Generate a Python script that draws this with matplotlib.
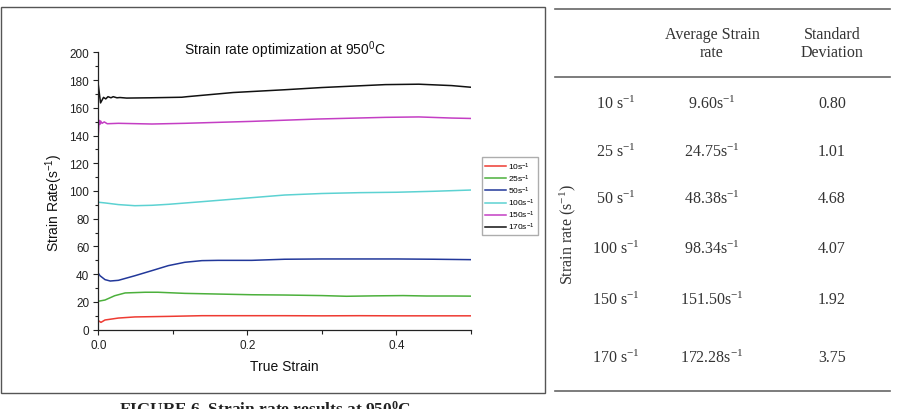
import numpy as np
import matplotlib
matplotlib.use('Agg')
import matplotlib.pyplot as plt
from matplotlib.lines import Line2D
from matplotlib.patches import Rectangle
from matplotlib.ticker import MultipleLocator

plt.rcParams['font.family'] = ['Liberation Sans', 'DejaVu Sans']
plt.rcParams['mathtext.default'] = 'regular'

# ---- curve data (true strain, strain rate) ----
x_10 = [0.0, 0.0036, 0.009, 0.027, 0.049, 0.094, 0.139, 0.183, 0.25, 0.3, 0.35, 0.4, 0.45, 0.5]
y_10 = [6.5, 5.3, 7.0, 8.4, 9.2, 9.6, 10.1, 10.1, 10.1, 10.0, 10.1, 10.0, 10.0, 10.0]

x_25 = [0.0, 0.009, 0.022, 0.036, 0.063, 0.08, 0.116, 0.161, 0.206, 0.25, 0.3, 0.333, 0.37, 0.409, 0.44, 0.476, 0.5]
y_25 = [20.5, 21.4, 24.5, 26.5, 27.0, 27.0, 26.2, 25.7, 25.2, 25.0, 24.6, 24.1, 24.4, 24.6, 24.3, 24.3, 24.2]

x_50 = [0.0, 0.0023, 0.009, 0.016, 0.027, 0.049, 0.072, 0.094, 0.116, 0.139, 0.161, 0.206, 0.25, 0.3, 0.35, 0.4, 0.45, 0.5]
y_50 = [40.7, 38.9, 36.1, 35.1, 35.6, 38.9, 42.6, 46.2, 48.6, 49.8, 50.0, 50.0, 50.8, 51.0, 51.0, 51.0, 50.8, 50.5]

x_100 = [0.0, 0.009, 0.027, 0.049, 0.072, 0.094, 0.139, 0.183, 0.25, 0.3, 0.35, 0.4, 0.45, 0.5]
y_100 = [91.9, 91.4, 90.2, 89.4, 89.7, 90.4, 92.3, 94.2, 97.1, 98.2, 98.8, 99.1, 99.8, 100.7]

x_150 = [0.0, 0.001, 0.002, 0.003, 0.005, 0.008, 0.012, 0.027, 0.072, 0.116, 0.206, 0.295, 0.385, 0.43, 0.474, 0.5]
y_150 = [141.0, 151.0, 148.0, 150.5, 148.8, 149.8, 148.5, 148.8, 148.3, 148.8, 150.2, 151.9, 153.1, 153.4, 152.6, 152.3]

x_170 = [0.0, 0.003, 0.007, 0.010, 0.013, 0.017, 0.020, 0.025, 0.029, 0.038, 0.069, 0.112, 0.119, 0.181, 0.25, 0.3,
         0.385, 0.43, 0.474, 0.5]
y_170 = [176.5, 163.5, 167.5, 166.4, 168.0, 167.2, 168.0, 167.2, 167.4, 167.0, 167.2, 167.6, 168.0, 171.0, 173.0,
         174.6, 176.7, 177.0, 176.0, 174.8]

labels = ['10s$^{-1}$', '25s$^{-1}$', '50s$^{-1}$', '100s$^{-1}$', '150s$^{-1}$', '170s$^{-1}$']
colors = ['#ee3b32', '#4cb03c', '#22389a', '#5cd2d2', '#c43ec4', '#111111']

# ---- table data ----
row_labels = ['10 s$^{-1}$', '25 s$^{-1}$', '50 s$^{-1}$', '100 s$^{-1}$', '150 s$^{-1}$', '170 s$^{-1}$']
avg_rate = ['9.60s$^{-1}$', '24.75s$^{-1}$', '48.38s$^{-1}$', '98.34s$^{-1}$', '151.50s$^{-1}$', '172.28s$^{-1}$']
std_dev = ['0.80', '1.01', '4.68', '4.07', '1.92', '3.75']
row_y = [104, 152, 199, 249, 300, 358]  # pixel rows in the table

W, H = 900, 410
fig = plt.figure(figsize=(9, 4.1), dpi=100)

def fx(px):
    return px / W

def fy(py):
    return 1 - py / H

# panel border
fig.add_artist(Rectangle((fx(1), fy(394)), fx(545) - fx(1), fy(8.3) - fy(394), transform=fig.transFigure,
                         fill=False, edgecolor='#555555', linewidth=1.0))

ax = fig.add_axes([fx(98.3), fy(330.7), fx(471) - fx(98.3), fy(53.3) - fy(330.7)])
xs = [x_10, x_25, x_50, x_100, x_150, x_170]
ys = [y_10, y_25, y_50, y_100, y_150, y_170]
for x, y, c, lab in zip(xs, ys, colors, labels):
    ax.plot(x, y, color=c, lw=1.1, label=lab)

ax.set_xlim(0, 0.5)
ax.set_ylim(0, 200)
ax.spines['top'].set_visible(False)
ax.spines['right'].set_visible(False)
for s in ['left', 'bottom']:
    ax.spines[s].set_linewidth(0.9)
    ax.spines[s].set_color('#222222')
ax.xaxis.set_major_locator(MultipleLocator(0.2))
ax.xaxis.set_minor_locator(MultipleLocator(0.1))
ax.yaxis.set_major_locator(MultipleLocator(20))
ax.yaxis.set_minor_locator(MultipleLocator(10))
ax.xaxis.set_major_formatter(plt.FormatStrFormatter('%.1f'))
ax.tick_params(axis='both', which='major', direction='out', length=3.5, width=0.8, labelsize=8.5,
               colors='#222222', pad=3)
ax.tick_params(axis='both', which='minor', direction='out', length=2, width=0.8, colors='#222222')
ax.tick_params(axis='x', which='minor', length=3)

fig.text(fx(284.7), fy(50), 'Strain rate optimization at 950$^0$C', ha='center', va='center', fontsize=10,
         color='#111111')
fig.text(fx(54.6), fy(202.5), 'Strain Rate(s$^{-1}$)', ha='center', va='center', rotation=90, fontsize=10,
         color='#111111')
fig.text(fx(284.7), fy(366.7), 'True Strain', ha='center', va='center', fontsize=10, color='#111111')

leg = fig.legend(loc='upper left', bbox_to_anchor=(fx(481.7), fy(158.3)), bbox_transform=fig.transFigure,
                 fontsize=6, frameon=True, fancybox=False, handlelength=2.6, handletextpad=0.25,
                 labelspacing=0.1, borderpad=0.35, borderaxespad=0)
leg.get_frame().set_edgecolor('#999999')
leg.get_frame().set_linewidth(1.0)

# caption (cut at the bottom edge as in the source)
fig.text(fx(265), fy(400.5), 'FIGURE 6. Strain rate results at 950$^0$C', ha='center', va='top', fontsize=12.5,
         fontweight='bold', family=['Liberation Serif', 'DejaVu Serif'], color='#222222')

# ---- table on the right ----
serif = ['Liberation Serif', 'DejaVu Serif']
tcol = '#333333'
fs = 11.5
for py in [10, 78, 392]:
    fig.add_artist(Line2D([fx(555), fx(890)], [fy(py), fy(py)], transform=fig.transFigure,
                          color='#666666', lw=1.2))
fig.text(fx(712), fy(44), 'Average Strain\nrate', ha='center', va='center', fontsize=fs, family=serif,
         color=tcol, linespacing=1.15)
fig.text(fx(832), fy(44), 'Standard\nDeviation', ha='center', va='center', fontsize=fs, family=serif,
         color=tcol, linespacing=1.15)
fig.text(fx(568), fy(235), 'Strain rate (s$^{-1}$)', ha='center', va='center', rotation=90, fontsize=fs,
         family=serif, color=tcol)
for py, a, b, c in zip(row_y, row_labels, avg_rate, std_dev):
    fig.text(fx(616), fy(py), a, ha='center', va='center', fontsize=fs, family=serif, color=tcol)
    fig.text(fx(712), fy(py), b, ha='center', va='center', fontsize=fs, family=serif, color=tcol)
    fig.text(fx(832), fy(py), c, ha='center', va='center', fontsize=fs, family=serif, color=tcol)

fig.savefig('out.png', dpi=100)
